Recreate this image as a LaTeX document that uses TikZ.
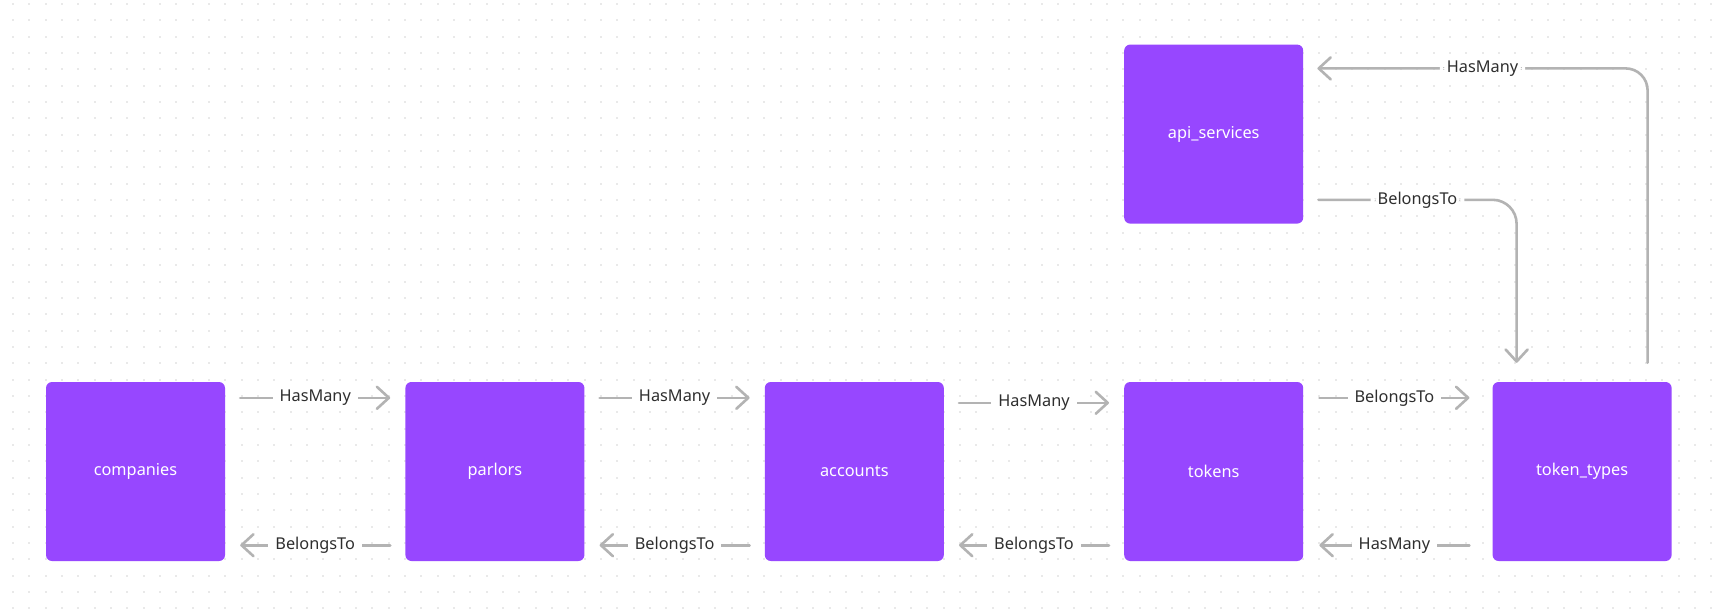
\documentclass[tikz,border=0pt]{standalone}
\usepackage{fontspec}
\setmainfont{Noto Sans}
\usetikzlibrary{arrows.meta,positioning,calc}
\definecolor{tablepurple}{HTML}{9747FF}
\definecolor{relgray}{HTML}{B3B3B3}
\definecolor{reltext}{HTML}{2E2E2E}
\definecolor{gridgray}{HTML}{E9E9E9}
\tikzset{
  tablebox/.style={fill=tablepurple, rounded corners=6pt, minimum size=179pt,
    inner sep=0pt, text=white, font=\fontsize{16.3}{19}\selectfont},
  relarrow/.style={draw=relgray, line width=2.6pt, line cap=round,
    -{Straight Barb[length=12pt,width=22pt,round]}},
  rellabel/.style={fill=white, text=reltext, inner xsep=7pt, inner ysep=2pt,
    font=\fontsize{16.3}{19}\selectfont}
}

\begin{document}
\begin{tikzpicture}[x=1pt, y=-1pt, node distance=180pt]
    \useasboundingbox[fill=white] (0,0) rectangle (1715,613);
    % dotted canvas
    \foreach \i in {0,...,104}
      \foreach \j in {0,...,37}
        \fill[gridgray] ({12+\i*16.33},{3+\j*16.33}) rectangle ++(2,2);

    \node[tablebox] (companies) at (135.5,471.5) {companies};
    \node[tablebox, right=of companies] (parlors) {parlors};
    \node[tablebox, right=of parlors] (accounts) {accounts};
    \node[tablebox, right=of accounts] (tokens) {tokens};
    \node[tablebox, right=189pt of tokens] (tokentypes) {token\_types};
    \node[tablebox, above=158pt of tokens] (apiservices) {api\_services};

    % top row
    \draw[relarrow] ($(companies.north east)+(15,16)$) -- node[rellabel] {HasMany} ($(parlors.north west)+(-15,16)$);
    \draw[relarrow] ($(parlors.north east)+(15,16)$) -- node[rellabel] {HasMany} ($(accounts.north west)+(-15,16)$);
    \draw[relarrow] ($(accounts.north east)+(15,21)$) -- node[rellabel] {HasMany} ($(tokens.north west)+(-15,21)$);
    \draw[relarrow] ($(tokens.north east)+(16,16)$) -- node[rellabel] {BelongsTo} ($(tokentypes.north west)+(-23,16)$);

    % bottom row
    \draw[relarrow] ($(parlors.south west)+(-15,-16)$) -- node[rellabel] {BelongsTo} ($(companies.south east)+(15,-16)$);
    \draw[relarrow] ($(accounts.south west)+(-15,-16)$) -- node[rellabel] {BelongsTo} ($(parlors.south east)+(15,-16)$);
    \draw[relarrow] ($(tokens.south west)+(-15,-16)$) -- node[rellabel] {BelongsTo} ($(accounts.south east)+(15,-16)$);
    \draw[relarrow] ($(tokentypes.south west)+(-23,-16)$) -- node[rellabel] {HasMany} ($(tokens.south east)+(16,-16)$);

    % api_services links
    \draw[relarrow, rounded corners=22pt] ($(tokentypes.north)+(65.5,-19)$) |- node[rellabel, pos=0.75] {HasMany} ($(apiservices.north east)+(14,24)$);
    \draw[relarrow, rounded corners=24pt] ($(apiservices.south east)+(15,-24)$) -| node[rellabel, pos=0.25] {BelongsTo} ($(tokentypes.north)+(-65.5,-19)$);
\end{tikzpicture}
\end{document}
